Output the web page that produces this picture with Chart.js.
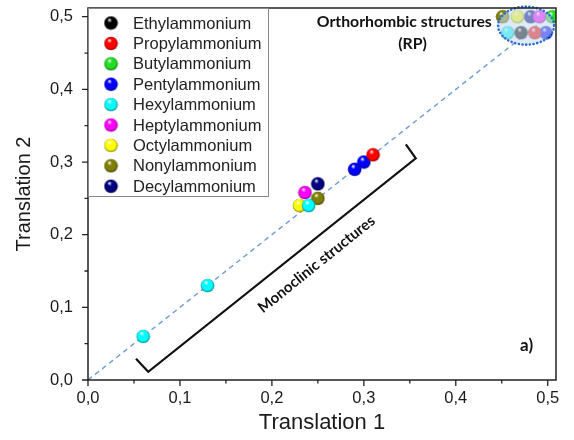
<!DOCTYPE html>
<html>
<head>
<meta charset="utf-8">
<script src="https://cdn.jsdelivr.net/npm/chart.js@4"></script>
<style>
  html, body { margin: 0; padding: 0; background: #fff; }
  #wrap { width: 574px; height: 440px; }
</style>
</head>
<body>
<div id="wrap"><canvas id="chart"></canvas></div>
<script>
// series
const names = ["Ethylammonium", "Propylammonium", "Butylammonium", "Pentylammonium", "Hexylammonium",
               "Heptylammonium", "Octylammonium", "Nonylammonium", "Decylammonium"];
const colors = ["#000000", "#ff0000", "#22dd22", "#0000ff", "#00ffff", "#ff00ff", "#ffff00", "#808000", "#000080"];

// monoclinic points (Translation 1 / Translation 2)
const monoX = [[], [0.31], [], [0.29, 0.30], [0.24, 0.13, 0.06], [0.236], [0.23], [0.25], [0.25]];
const monoY = [[], [0.31], [], [0.29, 0.30], [0.24, 0.13, 0.06], [0.258], [0.24], [0.25], [0.27]];

// orthorhombic (RP) points, grouped in the top right corner
const orthoX = [0.471, 0.486, 0.505, 0.498, 0.4565, 0.491, 0.467, 0.451, 0.4815];
const orthoY = [0.478, 0.478, 0.500, 0.478, 0.478, 0.500, 0.500, 0.500, 0.500];

// dashed guide y = x
const guideX = [0, 0.5];
const guideY = [0, 0.5];

// axis ticks
const tickValues = [0, 0.1, 0.2, 0.3, 0.4, 0.5];
const minorValues = [0.05, 0.15, 0.25, 0.35, 0.45];

// bracket under the monoclinic points
const bracketX = [0.0522, 0.0655, 0.3565, 0.3457];
const bracketY = [0.0291, 0.0113, 0.305, 0.3242];

function shade(hex, f) {
    const n = parseInt(hex.slice(1), 16);
    const r = (n >> 16) & 255, g = (n >> 8) & 255, b = n & 255;
    return "rgb(" + Math.round(r * f) + "," + Math.round(g * f) + "," + Math.round(b * f) + ")";
}

// shiny ball used as point style
function ball(color, r) {
    const c = document.createElement("canvas");
    const s = Math.ceil(r * 2 + 1);
    c.width = c.height = s;
    const g = c.getContext("2d");
    const cx = s / 2, cy = s / 2;
    const grad = g.createRadialGradient(cx - r * 0.25, cy - r * 0.5, r * 0.05, cx, cy, r);
    grad.addColorStop(0, "#ffffff");
    grad.addColorStop(0.3, color);
    grad.addColorStop(0.75, color);
    grad.addColorStop(1, shade(color, 0.55));
    g.fillStyle = grad;
    g.beginPath();
    g.arc(cx, cy, r, 0, Math.PI * 2);
    g.fill();
    return c;
}

const balls = colors.map(c => ball(c, 6.8));

const datasets = names.map((name, i) => {
    const pts = monoX[i].map((x, j) => ({ x: x, y: monoY[i][j] }));
    pts.push({ x: orthoX[i], y: orthoY[i] });
    return {
        label: name,
        data: pts,
        pointStyle: balls[i],
        pointRadius: 7,
        pointHoverRadius: 7
    };
});

datasets.push({
    type: "line",
    label: "guide",
    data: guideX.map((x, i) => ({ x: x, y: guideY[i] })),
    borderColor: "#6f9bd6",
    borderWidth: 1.4,
    borderDash: [5, 4],
    pointRadius: 0,
    fill: false
});

const fmt = v => v.toFixed(1).replace(".", ",");

const decor = {
    id: "decor",
    afterDatasetsDraw(chart) {
        const ctx = chart.ctx;
        const xs = chart.scales.x, ys = chart.scales.y;
        const a = chart.chartArea;
        const px = v => xs.getPixelForValue(v);
        const py = v => ys.getPixelForValue(v);
        ctx.save();

        // RP ellipse
        const ex = px(0.4765), ey = py(0.4877);
        ctx.beginPath();
        ctx.ellipse(ex, ey, 28, 19, 0, 0, Math.PI * 2);
        ctx.fillStyle = "rgba(200,220,240,0.6)";
        ctx.fill();
        ctx.setLineDash([0.1, 3.6]);
        ctx.lineCap = "round";
        ctx.lineWidth = 2.6;
        ctx.strokeStyle = "#2f6fd0";
        ctx.stroke();
        ctx.setLineDash([]);
        ctx.lineCap = "butt";

        // bracket
        ctx.beginPath();
        bracketX.forEach((x, i) => {
            if (i === 0) ctx.moveTo(px(x), py(bracketY[i]));
            else ctx.lineTo(px(x), py(bracketY[i]));
        });
        ctx.lineWidth = 2.2;
        ctx.strokeStyle = "#111";
        ctx.lineJoin = "miter";
        ctx.stroke();

        // annotations
        ctx.fillStyle = "#111";
        ctx.textAlign = "center";
        ctx.textBaseline = "middle";
        ctx.font = "bold 15.8px Lato";
        ctx.fillText("Orthorhombic structures", px(0.344), py(0.493));
        ctx.fillText("(RP)", px(0.353), py(0.463));
        ctx.font = "bold 17px Lato";
        ctx.fillText("a)", px(0.477), py(0.048));
        ctx.save();
        ctx.translate(px(0.2486), py(0.1594));
        ctx.rotate(-38.8 * Math.PI / 180);
        ctx.font = "bold 15px Lato";
        ctx.fillText("Monoclinic structures", 0, 0);
        ctx.restore();

        // frame
        ctx.lineWidth = 1.5;
        ctx.strokeStyle = "#222";
        ctx.strokeRect(a.left, a.top, a.right - a.left, a.bottom - a.top);

        // ticks
        ctx.lineWidth = 1.3;
        ctx.beginPath();
        tickValues.forEach(v => {
            ctx.moveTo(px(v), a.bottom); ctx.lineTo(px(v), a.bottom + 6);
            ctx.moveTo(a.left, py(v)); ctx.lineTo(a.left - 6, py(v));
        });
        minorValues.forEach(v => {
            ctx.moveTo(px(v), a.bottom); ctx.lineTo(px(v), a.bottom + 3.5);
            ctx.moveTo(a.left, py(v)); ctx.lineTo(a.left - 3.5, py(v));
        });
        ctx.stroke();

        // legend
        const lx = a.left, ly = a.top;
        ctx.fillStyle = "#fff";
        ctx.fillRect(lx + 0.5, ly + 0.5, 180, 188);
        ctx.lineWidth = 1;
        ctx.strokeStyle = "#888";
        ctx.strokeRect(lx + 0.5, ly + 0.5, 180, 188);
        ctx.font = "16.5px 'Liberation Sans'";
        ctx.textAlign = "left";
        ctx.fillStyle = "#222";
        names.forEach((n, i) => {
            const y = ly + 15 + i * 20.4;
            const img = balls[i];
            ctx.drawImage(img, lx + 23 - img.width / 2, y - img.height / 2);
            ctx.fillText(n, lx + 45, y + 1);
        });
        ctx.restore();
    }
};

const tickOpts = {
    stepSize: 0.05,
    autoSkip: false,
    includeBounds: false,
    maxRotation: 0,
    color: "#1a1a1a",
    font: { family: "'Liberation Sans'", size: 16.5 },
    callback: v => tickValues.some(t => Math.abs(t - v) < 1e-6) ? fmt(v) : ""
};

new Chart(document.getElementById("chart"), {
    type: "scatter",
    data: { datasets: datasets },
    plugins: [decor],
    options: {
        responsive: true,
        maintainAspectRatio: false,
        animation: false,
        events: [],
        layout: { padding: { top: 5, right: 18, left: 0, bottom: 0 } },
        plugins: { legend: { display: false }, tooltip: { enabled: false } },
        scales: {
            x: {
                type: "linear",
                min: 0,
                max: 0.509,
                afterFit: s => { s.height = 60; s.paddingLeft = 0; s.paddingRight = 0; },
                grid: { drawOnChartArea: false, drawTicks: true, tickLength: 6, tickColor: "rgba(0,0,0,0)" },
                border: { display: false },
                ticks: Object.assign({}, tickOpts, { padding: 3 }),
                title: {
                    display: true, text: "Translation 1", color: "#1a1a1a",
                    font: { family: "'Liberation Sans'", size: 22 },
                    padding: { top: 0, bottom: 4 }
                }
            },
            y: {
                type: "linear",
                min: 0,
                max: 0.512,
                afterFit: s => { s.width = 88; s.paddingTop = 0; s.paddingBottom = 0; },
                grid: { drawOnChartArea: false, drawTicks: true, tickLength: 6, tickColor: "rgba(0,0,0,0)" },
                border: { display: false },
                ticks: Object.assign({}, tickOpts, { padding: 9 }),
                title: {
                    display: true, text: "Translation 2", color: "#1a1a1a",
                    font: { family: "'Liberation Sans'", size: 20 },
                    padding: { top: 12, bottom: 0 }
                }
            }
        }
    }
});
</script>
</body>
</html>
